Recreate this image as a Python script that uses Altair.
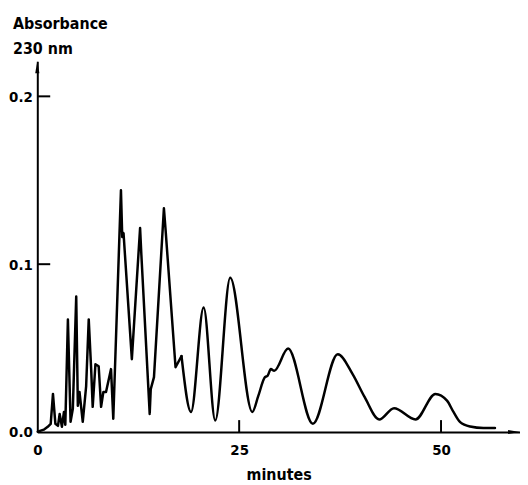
import altair as alt
import pandas as pd

# Chromatogram trace (minutes, absorbance units)
SHARP_T = [0.06, 0.80, 1.29, 1.66, 1.94, 2.24, 2.56, 2.77, 3.05, 3.30, 3.47, 3.79,
           4.12, 4.40, 4.82, 5.02, 5.23, 5.63, 6.05, 6.37, 6.67, 6.86, 7.20, 7.60,
           7.90, 8.18, 8.51, 9.13, 9.41, 10.36, 10.52, 10.68, 11.71, 12.73, 12.89,
           13.92, 14.05, 14.45, 15.68, 15.89, 17.12, 17.86]
SHARP_A = [0.0002, 0.0014, 0.0031, 0.0049, 0.0227, 0.0049, 0.0037, 0.0108, 0.0031,
           0.0120, 0.0043, 0.0671, 0.0061, 0.0138, 0.0807, 0.0156, 0.0238, 0.0061,
           0.0274, 0.0671, 0.0375, 0.0150, 0.0404, 0.0392, 0.0150, 0.0238, 0.0238,
           0.0375, 0.0079, 0.1440, 0.1162, 0.1185, 0.0434, 0.1215, 0.1055, 0.0108,
           0.0256, 0.0327, 0.1333, 0.1203, 0.0386, 0.0452]
SMOOTH_T = [17.86, 19.04, 20.60, 22.04, 23.89, 26.63, 27.37, 28.19, 28.51, 28.93,
            29.34, 31.06, 34.13, 37.21, 39.05, 40.53, 42.34, 44.18, 46.84, 49.30,
            50.74, 51.56, 52.37, 53.60, 55.25, 56.68]
SMOOTH_A = [0.0452, 0.0120, 0.0742, 0.0069, 0.0919, 0.0120, 0.0215, 0.0327, 0.0335,
            0.0375, 0.0365, 0.0497, 0.0049, 0.0463, 0.0345, 0.0209, 0.0075, 0.0142,
            0.0075, 0.0227, 0.0187, 0.0118, 0.0059, 0.0033, 0.0024, 0.0024]

X_LABELS = [0, 25, 50]
Y_LABELS = [0.0, 0.1, 0.2]
X_TICK_MARKS = [25, 50]
Y_TICK_MARKS = [0.1, 0.2]

X_MAX = 59.78
Y_MAX = 0.2209
W = 486
H = 373.3

FONT = "DejaVu Sans Condensed, Liberation Sans Narrow, DejaVu Sans"

sharp = pd.DataFrame({"t": SHARP_T, "a": SHARP_A})
smooth = pd.DataFrame({"t": SMOOTH_T, "a": SMOOTH_A})

xscale = alt.Scale(domain=[0, X_MAX], nice=False, zero=False)
yscale = alt.Scale(domain=[0, Y_MAX], nice=False, zero=False)

xaxis = alt.Axis(values=X_LABELS, format="d", title="minutes", grid=False,
                 ticks=False, tickSize=0, labelPadding=11, labelFlush=False,
                 domainColor="black", domainWidth=2,
                 labelFont=FONT, labelFontSize=15, labelFontWeight="bold",
                 labelColor="black", titleFont=FONT, titleFontSize=16,
                 titleFontWeight="bold", titleColor="black", titlePadding=9)
yaxis = alt.Axis(values=Y_LABELS, format=".1f",
                 title=["Absorbance", "230 nm"], grid=False,
                 ticks=False, tickSize=0, labelPadding=5, labelFlush=False,
                 domainColor="black", domainWidth=2,
                 labelFont=FONT, labelFontSize=15, labelFontWeight="bold",
                 labelColor="black", titleFont=FONT, titleFontSize=16,
                 titleFontWeight="bold", titleColor="black", titleAngle=0,
                 titleAlign="left", titleBaseline="alphabetic",
                 titleX=-25, titleY=-33, titleLineHeight=25)

X = alt.X("t:Q", scale=xscale, axis=xaxis)
Y = alt.Y("a:Q", scale=yscale, axis=yaxis)

line_sharp = alt.Chart(sharp).mark_line(
    color="black", strokeWidth=2.5, strokeJoin="round", strokeCap="round"
).encode(x=X, y=Y, order="t:Q")

line_smooth = alt.Chart(smooth).mark_line(
    color="black", strokeWidth=2.5, interpolate="monotone", strokeCap="round"
).encode(x=X, y=Y, order="t:Q")

xticks = alt.Chart(pd.DataFrame({"t": X_TICK_MARKS})).mark_rule(
    color="black", strokeWidth=2
).encode(x=X, y=alt.value(H), y2=alt.value(H - 12))

yticks = alt.Chart(pd.DataFrame({"a": Y_TICK_MARKS})).mark_rule(
    color="black", strokeWidth=2
).encode(y=Y, x=alt.value(0), x2=alt.value(13))

arrow_y = alt.Chart(pd.DataFrame({"k": [0]})).mark_point(
    shape="M0,-1L0.35,1L-0.35,1Z", filled=True, color="black", opacity=1, size=144
).encode(x=alt.value(0), y=alt.value(6))

arrow_x = alt.Chart(pd.DataFrame({"k": [0]})).mark_point(
    shape="M1,0L-1,0.35L-1,-0.35Z", filled=True, color="black", opacity=1, size=144
).encode(x=alt.value(W - 6), y=alt.value(H))

chart = alt.layer(line_sharp, line_smooth, xticks, yticks, arrow_y, arrow_x).properties(
    width=W, height=H, autosize="none",
    padding={"left": 29.5, "top": 52, "right": 0, "bottom": 52},
).configure_view(stroke=None)

chart.save("out.html", embed_options={"renderer": "svg", "actions": False})
